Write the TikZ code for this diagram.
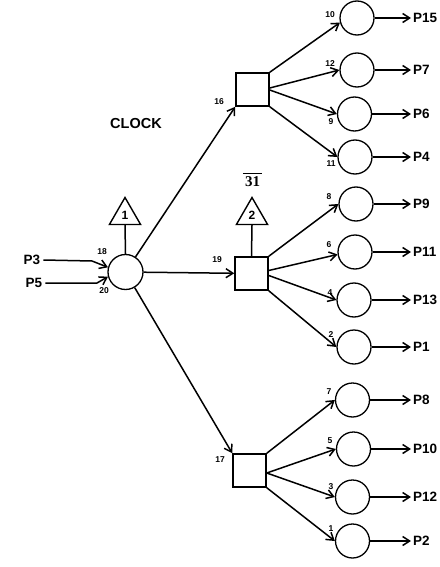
\documentclass[tikz,border=0pt]{standalone}
\usepackage{fontspec}
\setmainfont{Liberation Sans}
\newfontfamily\serifb{Liberation Serif}
\usetikzlibrary{arrows.meta,shapes.geometric}
\begin{document}
\begin{tikzpicture}[x=1pt,y=-1pt,
  every node/.style={font=\fontsize{13.5}{14}\selectfont\bfseries},
  ln/.style={line width=1.5pt},
  arr/.style={ln,-{Straight Barb[length=7pt,width=9pt,line width=1.5pt]}},
  place/.style={circle,draw,line width=1.3pt,minimum size=34pt,inner sep=0pt},
  box/.style={rectangle,draw,line width=1.5pt,minimum size=33pt,inner sep=0pt},
  tri/.style={regular polygon,regular polygon sides=3,draw,line width=1.4pt,minimum size=36pt,inner sep=0pt,font=\fontsize{12}{12}\selectfont\bfseries},
  num/.style={inner sep=0pt,font=\fontsize{8.5}{9}\selectfont\bfseries},
  outl/.style={anchor=west,inner sep=2pt}
]
\useasboundingbox (0,0) rectangle (439,567);

% main place
\node[place,minimum size=35pt] (m) at (125.5,272) {};
\node[tri] (t1) at (125,215.5) {1};
\draw[ln] (t1.south) -- (m.north);

% inputs
\node[inner sep=3pt] (p3) at (32,260) {P3};
\node[inner sep=3pt] (p5) at (34,283) {P5};
\draw[arr] (p3.east) -- (92,261) -- (m.165);
\draw[arr] (p5.east) -- (97,283) -- (m.195);
\node[num] (n18) at (102,252) {18};
\node[num] (n20) at (104,291) {20};

% clock
\node[font=\fontsize{14.5}{14.5}\selectfont\bfseries] (clk) at (136,124) {CLOCK};

% transitions
\node[box] (sa) at (252.5,89.5) {};
\node[box] (sb) at (251.5,273.5) {};
\node[box] (sc) at (249.5,470.5) {};
\node[tri] (t2) at (252,215.5) {2};
\draw[ln] (t2.south) -- (sb.north);
\node[inner sep=0.5pt,font=\fontsize{15}{15}\selectfont\serifb\bfseries] (bar) at (252.5,182) {31};
\draw[line width=1.4pt] ([xshift=-1.5pt,yshift=2.5pt]bar.north west) -- ([xshift=1.5pt,yshift=2.5pt]bar.north east);

\draw[arr] (m) -- (sa.south west);
\draw[arr] (m) -- (sb);
\draw[arr] (m) -- (sc.north west);
\node[num] (n16) at (219,102) {16};
\node[num] (n19) at (217,260) {19};
\node[num] (n17) at (220,460) {17};

% output places
\foreach \i/\x/\y/\p/\n/\nx/\ny in {
  1/357/18/P15/10/330/15,
  2/357/70/P7/12/330/64,
  3/354.5/114/P6/9/331/122,
  4/355/157/P4/11/331/164,
  5/356/204/P9/8/329/197,
  6/355/252/P11/6/329/245,
  7/354/300/P13/4/330/293,
  8/354/347/P1/2/331/335,
  9/352.5/400/P8/7/329/392,
  10/353.5/449/P10/5/330/441,
  11/352.5/497/P12/3/331/487,
  12/352.5/541/P2/1/331/529}{
  \node[place] (r\i) at (\x,\y) {};
  \node[outl] (q\i) at (411,\y) {\p};
  \draw[arr] (r\i) -- (q\i);
  \node[num] (n\i) at (\nx,\ny) {\n};
}

% arcs from transitions
\draw[arr] (sa.north east) -- (r1.195);
\draw[arr] ([yshift=1.5pt]sa.east) -- (r2.west);
\draw[arr] ([yshift=-0.5pt]sa.east) -- (r3.west);
\draw[arr] (sa.south east) -- (r4.west);

\draw[arr] (sb.north east) -- (r5.west);
\draw[arr] ([yshift=3pt]sb.east) -- (r6.188);
\draw[arr] ([yshift=-2pt]sb.east) -- (r7.west);
\draw[arr] (sb.south east) -- (r8.west);

\draw[arr] (sc.north east) -- (r9.west);
\draw[arr] ([yshift=-2.5pt]sc.east) -- (r10.west);
\draw[arr] ([yshift=-2.5pt]sc.east) -- (r11.west);
\draw[arr] (sc.south east) -- (r12.west);
\end{tikzpicture}
\end{document}
